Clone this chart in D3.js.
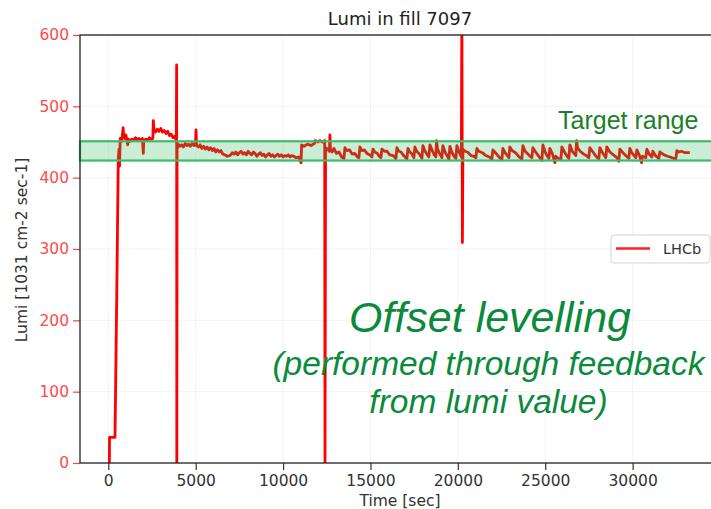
<!DOCTYPE html>
<html>
<head>
<meta charset="utf-8">
<script src="https://cdn.jsdelivr.net/npm/d3@7"></script>
<style>
  body { margin: 0; background: #fff; }
  text { font-family: "DejaVu Sans", sans-serif; }
</style>
</head>
<body>
<svg id="chart" width="711" height="509"></svg>
<script>
// luminosity trace: [time in sec, lumi]
var lumiTrace = [
  [0, 0], [60, 0], [70, 36], [383, 36], [390, 51], [480, 229], [570, 425], [610, 440], [640, 416], [680, 455],
  [730, 450], [780, 453], [850, 470], [880, 458], [950, 455], [1000, 460], [1060, 453], [1110, 446], [1150, 454],
  [1250, 451], [1350, 454], [1450, 452], [1550, 456], [1650, 453], [1750, 455], [1850, 452], [1950, 455],
  [2002, 434], [2030, 452], [2150, 454], [2250, 452], [2350, 456], [2450, 454], [2550, 455], [2574, 480],
  [2610, 468], [2700, 464], [2800, 468], [2900, 465], [3000, 469], [3100, 464], [3200, 466], [3300, 462],
  [3400, 465], [3500, 459], [3600, 461], [3700, 456], [3800, 458], [3890, 452], [3910, 558], [3920, 0], [3935, 440],
  [4000, 447], [4100, 444], [4200, 446], [4300, 443], [4400, 448], [4500, 445], [4600, 447], [4700, 444],
  [4800, 448], [4900, 445], [4990, 447], [5017, 467], [5050, 445], [5150, 443], [5250, 446], [5350, 441],
  [5450, 444], [5550, 440], [5650, 443], [5750, 439], [5850, 442], [5950, 438], [6050, 441], [6150, 436],
  [6250, 439], [6350, 436], [6450, 438], [6550, 433], [6675, 432], [6800, 430],
  [6961, 431], [7100, 435], [7200, 433], [7300, 436], [7400, 432], [7500, 435], [7600, 437], [7700, 433],
  [7800, 435], [7900, 432], [8000, 437], [8100, 434], [8200, 432], [8300, 436], [8400, 434], [8500, 430],
  [8600, 433], [8700, 435], [8800, 431], [8900, 433], [9000, 429], [9100, 432], [9200, 434], [9300, 430],
  [9400, 432], [9500, 429], [9600, 431], [9700, 433], [9800, 430], [9900, 432], [10000, 429], [10100, 431],
  [10200, 430], [10300, 432], [10400, 429], [10500, 431], [10600, 430], [10750, 428], [10900, 429],
  [11030, 421], [11060, 446], [11200, 444], [11400, 447], [11600, 445], [11800, 448], [11830, 452],
  [12000, 450], [12100, 452], [12250, 450], [12380, 452], [12400, 0], [12430, 442], [12550, 440], [12650, 437],
  [12680, 460], [12710, 440], [12800, 436], [12910, 441], [13050, 434], [13200, 436], [13350, 429], [13482, 427],
  [13539, 442], [13650, 438], [13800, 439], [13950, 433], [14100, 434], [14250, 429], [14340, 428],
  [14397, 443], [14500, 438], [14650, 439], [14800, 434], [14950, 432], [15083, 429],
  [15141, 440], [15250, 436], [15400, 434], [15500, 430], [15598, 428],
  [15656, 440], [15800, 437], [15950, 437], [16100, 432], [16300, 431], [16457, 427],
  [16514, 442], [16620, 437], [16750, 436], [16900, 431], [17086, 426],
  [17143, 441], [17250, 436], [17350, 434], [17486, 428],
  [17543, 443], [17650, 437], [17800, 433], [17944, 427],
  [18001, 445], [18100, 438], [18250, 432], [18344, 429],
  [18401, 446], [18500, 440], [18650, 432], [18744, 429],
  [18784, 452], [18830, 441], [18950, 434], [19088, 428],
  [19145, 445], [19250, 437], [19380, 431], [19488, 426],
  [19545, 444], [19650, 436], [19780, 430], [19888, 427],
  [19945, 445], [20050, 437], [20200, 429],
  [20230, 640], [20260, 309], [20290, 440], [20400, 437], [20550, 436], [20750, 431], [20900, 430], [21032, 428],
  [21090, 441], [21200, 437], [21400, 435], [21600, 431], [21800, 429], [21948, 426],
  [22005, 439], [22150, 435], [22350, 429], [22520, 425],
  [22577, 441], [22700, 435], [22920, 428],
  [22977, 443], [23100, 438], [23300, 435], [23500, 429], [23664, 426],
  [23721, 445], [23850, 437], [24050, 432], [24236, 428],
  [24293, 442], [24450, 436], [24600, 431], [24808, 424],
  [24865, 446], [24980, 437], [25100, 431], [25208, 427],
  [25265, 441], [25400, 434], [25550, 421], [25600, 430], [25750, 427], [25894, 425],
  [25951, 443], [26100, 436], [26250, 430], [26352, 427],
  [26409, 446], [26550, 437], [26752, 431],
  [26792, 452], [26850, 442], [27000, 437], [27200, 433], [27350, 431], [27496, 428],
  [27553, 442], [27700, 437], [27900, 430], [28068, 426],
  [28125, 442], [28250, 436], [28468, 428],
  [28525, 443], [28700, 436], [28900, 432], [29100, 428], [29211, 423],
  [29269, 440], [29450, 435], [29650, 430], [29784, 427],
  [29841, 441], [29950, 435], [30184, 428],
  [30241, 439], [30380, 432], [30510, 421], [30560, 430], [30756, 428],
  [30813, 440], [30950, 433], [31099, 429],
  [31156, 437], [31300, 431], [31499, 427],
  [31557, 436], [31800, 432], [32000, 430], [32250, 428], [32472, 426],
  [32529, 438], [32650, 436], [32800, 437], [33000, 435], [33273, 435]
];
var targetRange = [424, 451];
var xTicks = [0, 5000, 10000, 15000, 20000, 25000, 30000];
var yTicks = [0, 100, 200, 300, 400, 500, 600];
var legendLabels = ["LHCb"];
var noteLines = ["(performed through feedback", "from lumi value)"];

var svg = d3.select("#chart");
var margin = { top: 35, left: 80, right: 720, bottom: 463 };

var xScale = d3.scaleLinear().domain([-1620, 35000]).range([margin.left, margin.right]);
var yScale = d3.scaleLinear().domain([0, 600]).range([margin.bottom, margin.top]);

svg.append("defs").append("clipPath").attr("id", "plotClip")
  .append("rect")
  .attr("x", margin.left).attr("y", margin.top)
  .attr("width", margin.right - margin.left)
  .attr("height", margin.bottom - margin.top);

// faint grid
var grid = svg.append("g");
grid.selectAll(".gx").data(xTicks).enter().append("line")
  .attr("x1", d => xScale(d)).attr("x2", d => xScale(d))
  .attr("y1", margin.top).attr("y2", margin.bottom)
  .attr("stroke", "#f3f3f3").attr("stroke-width", 1);
grid.selectAll(".gy").data(yTicks).enter().append("line")
  .attr("x1", margin.left).attr("x2", margin.right)
  .attr("y1", d => yScale(d)).attr("y2", d => yScale(d))
  .attr("stroke", "#f3f3f3").attr("stroke-width", 1);

// lumi line
var line = d3.line().x(d => xScale(d[0])).y(d => yScale(d[1]));
svg.append("path")
  .datum(lumiTrace)
  .attr("clip-path", "url(#plotClip)")
  .attr("d", line)
  .attr("fill", "none")
  .attr("stroke", "#ff0000")
  .attr("stroke-width", 2.8)
  .attr("stroke-linejoin", "round");

// target band drawn over the line
svg.append("rect")
  .attr("x", margin.left)
  .attr("y", yScale(targetRange[1]))
  .attr("width", margin.right - margin.left)
  .attr("height", yScale(targetRange[0]) - yScale(targetRange[1]))
  .attr("fill", "rgba(46,184,92,0.25)")
  .attr("stroke", "#3dbb6a")
  .attr("stroke-width", 2.2);

// axes
var bottomAxis = d3.axisBottom(xScale).tickValues(xTicks).tickSize(7).tickPadding(5).tickFormat(d3.format("d"));
var leftAxis = d3.axisLeft(yScale).tickValues(yTicks).tickSize(7).tickPadding(4).tickFormat(d3.format("d"));

var xAxis = svg.append("g")
  .attr("transform", `translate(0, ${margin.bottom})`)
  .call(bottomAxis);
xAxis.select(".domain").remove();
xAxis.selectAll("line").attr("stroke", "#333").attr("stroke-width", 1.2);
xAxis.selectAll("text").attr("fill", "#333").attr("font-size", "15.5px")
  .style("font-family", "DejaVu Sans");

var yAxis = svg.append("g")
  .attr("transform", `translate(${margin.left}, 0)`)
  .call(leftAxis);
yAxis.select(".domain").remove();
yAxis.selectAll("line").attr("stroke", "#ff4040").attr("stroke-width", 1.2);
yAxis.selectAll("text").attr("fill", "#ff4a4a").attr("font-size", "15.5px")
  .style("font-family", "DejaVu Sans");

// spines
svg.append("rect")
  .attr("x", margin.left).attr("y", margin.top)
  .attr("width", margin.right - margin.left)
  .attr("height", margin.bottom - margin.top)
  .attr("fill", "none").attr("stroke", "#222").attr("stroke-width", 1.3);

// title and axis labels
svg.append("text")
  .attr("x", (margin.left + margin.right) / 2).attr("y", 25)
  .attr("text-anchor", "middle").attr("font-size", "18px").attr("fill", "#222")
  .text("Lumi in fill 7097");

svg.append("text")
  .attr("x", 400).attr("y", 506)
  .attr("text-anchor", "middle").attr("font-size", "15.5px").attr("fill", "#333")
  .text("Time [sec]");

svg.append("text")
  .attr("transform", "translate(27, 250) rotate(-90)")
  .attr("text-anchor", "middle").attr("font-size", "15.5px").attr("fill", "#333")
  .text("Lumi [1031 cm-2 sec-1]");

// legend
var legend = svg.append("g");
legend.append("rect")
  .attr("x", 611).attr("y", 235).attr("width", 99).attr("height", 28)
  .attr("rx", 3).attr("fill", "#fff").attr("stroke", "#d4d4d4").attr("stroke-width", 1);
legend.selectAll(".ll").data(legendLabels).enter().append("line")
  .attr("x1", 616).attr("x2", 650).attr("y1", 248.5).attr("y2", 248.5)
  .attr("stroke", "#ff2020").attr("stroke-width", 2.4);
legend.selectAll(".lt").data(legendLabels).enter().append("text")
  .attr("x", 663).attr("y", 254)
  .attr("font-size", "14.5px").attr("fill", "#333")
  .text(d => d);

// annotations
svg.append("text")
  .attr("x", 558).attr("y", 129)
  .attr("font-size", "25px").attr("fill", "#1c7f2a")
  .style("font-family", "Liberation Sans, Arial, sans-serif")
  .text("Target range");

svg.append("text")
  .attr("x", 490).attr("y", 332)
  .attr("text-anchor", "middle")
  .attr("font-size", "43px").attr("font-style", "italic").attr("fill", "#0b8a3c")
  .style("font-family", "Liberation Sans, Arial, sans-serif")
  .text("Offset levelling");

svg.selectAll(".note").data(noteLines).enter().append("text")
  .attr("x", 488.5).attr("y", (d, i) => 375 + i * 38)
  .attr("text-anchor", "middle")
  .attr("font-size", "33.5px").attr("font-style", "italic").attr("fill", "#0b8a3c")
  .style("font-family", "Liberation Sans, Arial, sans-serif")
  .text(d => d);
</script>
</body>
</html>
